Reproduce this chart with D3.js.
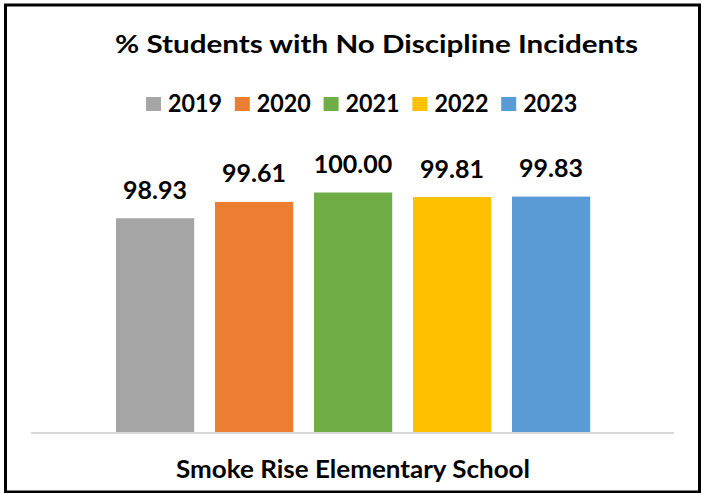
<!DOCTYPE html>
<html>
<head>
<meta charset="utf-8">
<script src="https://cdn.jsdelivr.net/npm/d3@7"></script>
<style>
  body { margin: 0; background: #fff; }
  text { font-family: Lato, "Open Sans", sans-serif; font-weight: bold; fill: #000; }
</style>
</head>
<body>
<svg id="chart" width="703" height="493"></svg>
<script>
// data
var years  = ["2019", "2020", "2021", "2022", "2023"];
var values = [98.93, 99.61, 100.00, 99.81, 99.83];
var colors = ["#a5a5a5", "#ed7d31", "#70ad47", "#ffc000", "#5b9bd5"];
var school = "Smoke Rise Elementary School";
var title  = "% Students with No Discipline Incidents";

var svg = d3.select("svg#chart");

// outer frame
svg.append("rect")
  .attr("x", 5.5).attr("y", 5)
  .attr("width", 694).attr("height", 487)
  .attr("fill", "#fff")
  .attr("stroke", "#000")
  .attr("stroke-width", 3);

var x = d3.scaleBand()
  .domain(years)
  .range([105.6, 600.6])
  .paddingInner(0.21)
  .paddingOuter(0.105);

var y = d3.scaleLinear()
  .domain([90, 100])
  .range([433, 192.5]);

// title
svg.append("text")
  .attr("x", 376.5).attr("y", 52.5)
  .attr("text-anchor", "middle")
  .style("font-size", "25.5px")
  .attr("textLength", 523)
  .attr("lengthAdjust", "spacingAndGlyphs")
  .text(title);

// legend
var legend = svg.append("g")
  .selectAll("g")
  .data(years)
  .enter()
  .append("g")
  .attr("transform", (d, i) => "translate(" + (146 + i * 88.8) + ",0)");

legend.append("rect")
  .attr("x", 0).attr("y", 97)
  .attr("width", 15).attr("height", 14)
  .attr("fill", (d, i) => colors[i]);

legend.append("text")
  .attr("x", 22).attr("y", 111.5)
  .style("font-size", "24.5px")
  .attr("textLength", 54)
  .attr("lengthAdjust", "spacingAndGlyphs")
  .text(d => d);

// bars
var data = years.map((d, i) => ({year: d, value: values[i], color: colors[i]}));

svg.append("g")
  .selectAll("rect")
  .data(data)
  .enter()
  .append("rect")
  .attr("x", d => x(d.year))
  .attr("y", d => y(d.value))
  .attr("width", x.bandwidth())
  .attr("height", d => y(90) - y(d.value))
  .attr("fill", d => d.color);

svg.append("g")
  .selectAll("text")
  .data(data)
  .enter()
  .append("text")
  .attr("x", d => x(d.year) + x.bandwidth() / 2)
  .attr("y", d => y(d.value) - 19.5)
  .attr("text-anchor", "middle")
  .style("font-size", "25px")
  .text(d => d.value.toFixed(2));

// category axis line
svg.append("line")
  .attr("x1", 31).attr("x2", 674)
  .attr("y1", 433).attr("y2", 433)
  .attr("stroke", "#d9d9d9")
  .attr("stroke-width", 2);

svg.append("text")
  .attr("x", 353).attr("y", 477.5)
  .attr("text-anchor", "middle")
  .style("font-size", "25px")
  .attr("textLength", 354)
  .attr("lengthAdjust", "spacingAndGlyphs")
  .text(school);
</script>
</body>
</html>
